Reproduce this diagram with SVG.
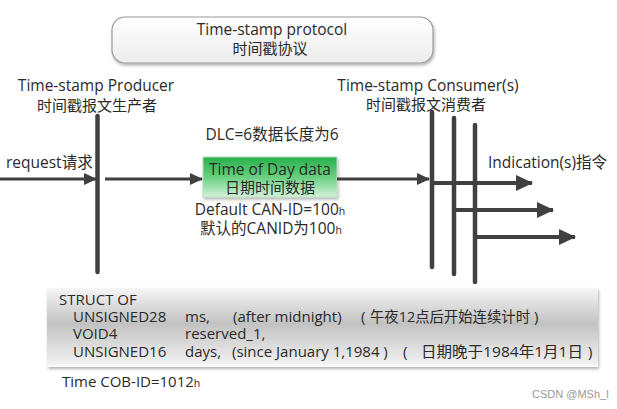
<svg xmlns="http://www.w3.org/2000/svg" width="617" height="409" viewBox="0 0 617 409">
<style>
text{font-family:"Open Sans","Noto Sans CJK SC",sans-serif;fill:#2a2a2a;font-size:15.5px}
.c{text-anchor:middle}
.cjk{font-size:15px}
.bar{stroke:#404040;stroke-width:4.5;stroke-linecap:round;fill:none}
.arr{stroke:#404040;stroke-width:3;fill:none;marker-end:url(#ah)}
.arrb{stroke:#404040;stroke-width:4;fill:none;marker-end:url(#ahb)}
.sub{font-size:10.5px}
.st{font-size:15px}
</style>
<defs>
<marker id="ah" markerUnits="userSpaceOnUse" markerWidth="13" markerHeight="13" viewBox="0 0 13 13" refX="12" refY="6.5" orient="auto">
<path d="M0,0.5 L13,6.5 L0,12.5 Z" fill="#404040"/>
</marker>
<marker id="ahb" markerUnits="userSpaceOnUse" markerWidth="17" markerHeight="17" viewBox="0 0 17 17" refX="16" refY="8.5" orient="auto">
<path d="M0,0.5 L17,8.5 L0,16.5 Z" fill="#404040"/>
</marker>
<linearGradient id="gTop" x1="0" y1="0" x2="0" y2="1">
<stop offset="0" stop-color="#ffffff"/>
<stop offset="1" stop-color="#ececec"/>
</linearGradient>
<linearGradient id="gGreen" x1="0" y1="0" x2="0" y2="1">
<stop offset="0" stop-color="#27b04a"/>
<stop offset="0.5" stop-color="#68cf7f"/>
<stop offset="1" stop-color="#d4f3da"/>
</linearGradient>
<linearGradient id="gStruct" x1="0" y1="0" x2="0" y2="1">
<stop offset="0" stop-color="#f6f6f6"/>
<stop offset="0.45" stop-color="#c2c2c2"/>
<stop offset="0.95" stop-color="#f0f0f0"/>
<stop offset="1" stop-color="#ffffff"/>
</linearGradient>
<filter id="sh" x="-10%" y="-20%" width="120%" height="150%">
<feDropShadow dx="1" dy="2" stdDeviation="1.5" flood-color="#000" flood-opacity="0.3"/>
</filter>
</defs>

<g id="protocol">
<rect x="112" y="17" width="321" height="46" rx="13" fill="url(#gTop)" stroke="#9a9a9a" stroke-width="1.2" filter="url(#sh)"/>
<text class="c" x="272" y="35">Time-stamp protocol</text>
<text class="c cjk" x="270" y="54">时间戳协议</text>
</g>

<g id="producer">
<text class="c" x="96" y="91">Time-stamp Producer</text>
<text class="c cjk" x="97" y="111">时间戳报文生产者</text>
<line class="bar" x1="97.5" y1="116" x2="97.5" y2="272"/>
</g>

<g id="consumers">
<text class="c" x="428" y="91">Time-stamp Consumer(s)</text>
<text class="c cjk" x="426" y="110">时间戳报文消费者</text>
<line class="bar" x1="432" y1="112" x2="432" y2="267"/>
<line class="bar" x1="454" y1="118" x2="454" y2="274"/>
<line class="bar" x1="475" y1="125" x2="475" y2="282"/>
</g>

<g id="request">
<text x="6" y="168">request请求</text>
</g>

<g id="data">
<text class="c" x="272" y="140">DLC=6数据长度为6</text>
<rect x="203" y="157" width="134" height="40" fill="url(#gGreen)" stroke="#b9dcbc" stroke-width="1" filter="url(#sh)"/>
<text class="c" x="270" y="175">Time of Day data</text>
<text class="c cjk" x="270" y="193">日期时间数据</text>
<text class="c" x="270" y="215">Default CAN-ID=100<tspan class="sub">h</tspan></text>
<text class="c" x="271" y="234">默认的CANID为100<tspan class="sub">h</tspan></text>
</g>

<g id="indication">
<text x="488" y="168">Indication(s)指令</text>
</g>

<g id="connectors">
<line class="arr" x1="0" y1="179" x2="96" y2="179"/>
<line class="arr" x1="105" y1="179" x2="202" y2="179"/>
<line class="arr" x1="337" y1="179" x2="429" y2="179"/>
<line class="arrb" x1="432" y1="183" x2="532" y2="183"/>
<line class="arrb" x1="454" y1="210" x2="553" y2="210"/>
<line class="arrb" x1="475" y1="237" x2="575" y2="237"/>
</g>

<g id="struct">
<rect x="47" y="288" width="551" height="79" fill="url(#gStruct)" filter="url(#sh)"/>
<text class="st" x="59" y="305">STRUCT OF</text>
<text class="st" y="322"><tspan x="73">UNSIGNED28</tspan><tspan x="185">ms,</tspan><tspan x="233">(after midnight)</tspan><tspan x="361">(</tspan><tspan x="370" textLength="160" lengthAdjust="spacingAndGlyphs">午夜12点后开始连续计时</tspan><tspan x="534">)</tspan></text>
<text class="st" y="339"><tspan x="73">VOID4</tspan><tspan x="185">reserved_1,</tspan></text>
<text class="st" y="357"><tspan x="73">UNSIGNED16</tspan><tspan x="185">days,</tspan><tspan x="232">(since January 1,1984 )</tspan><tspan x="403">(</tspan><tspan x="421" textLength="162" lengthAdjust="spacingAndGlyphs">日期晚于1984年1月1日</tspan><tspan x="588">)</tspan></text>
</g>

<g id="cob">
<text class="st" x="62" y="387">Time COB-ID=1012<tspan class="sub">h</tspan></text>
</g>

<text x="532" y="398" style="font-family:'Liberation Sans',sans-serif;font-size:11px;fill:#999">CSDN @MSh_l</text>
</svg>
